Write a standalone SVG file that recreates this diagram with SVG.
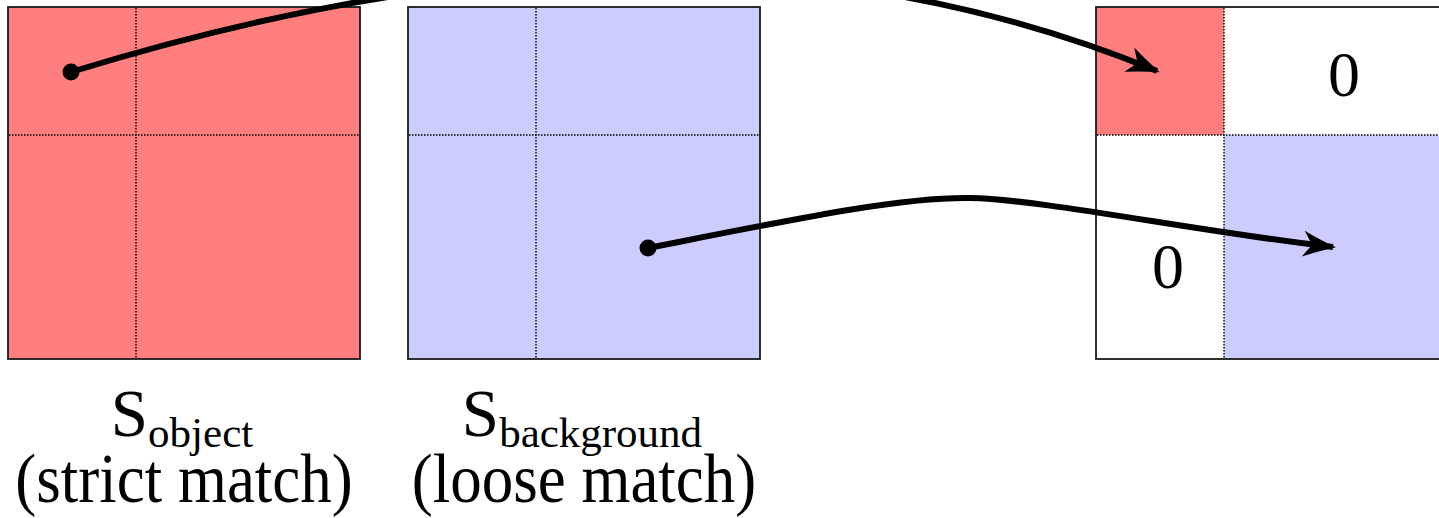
<svg xmlns="http://www.w3.org/2000/svg" width="1439" height="518" viewBox="0 0 1439 518">
<style>
.frame{stroke:#1a1a1a;stroke-width:1.8;}
.red{fill:#FF7F7F;}
.blue{fill:#CCCCFF;}
.grid{stroke:#000;stroke-width:1.4;stroke-dasharray:1.5 1.5;fill:none;}
.conn{fill:none;stroke:#000;stroke-width:6;}
.t{font-family:"Liberation Serif","Times New Roman",serif;fill:#000;}
</style>
<defs>
<marker id="arr" markerUnits="userSpaceOnUse" markerWidth="48" markerHeight="40" viewBox="-40 -20 48 40" refX="0" refY="0" orient="auto" overflow="visible">
<path d="M3,0 Q-12,-5 -30,-13 L-21,0 L-30,13 Q-12,5 3,0 Z" fill="#000"/>
</marker>
</defs>
<g id="s-object">
<rect class="red frame" x="8" y="7" width="352" height="352"/>
<line class="grid" x1="136" y1="8" x2="136" y2="358"/>
<line class="grid" x1="9" y1="135" x2="359" y2="135"/>
<text class="t" x="182" y="436" font-size="67" text-anchor="middle">S<tspan font-size="43" dy="11">object</tspan></text>
<text class="t" transform="translate(184,502) scale(1,1.12)" x="0" y="0" font-size="63" text-anchor="middle">(strict match)</text>
</g>
<g id="s-background">
<rect class="blue frame" x="408" y="7" width="352" height="352"/>
<line class="grid" x1="536" y1="8" x2="536" y2="358"/>
<line class="grid" x1="409" y1="135" x2="759" y2="135"/>
<text class="t" x="582" y="436" font-size="67" text-anchor="middle">S<tspan font-size="43" dy="11">background</tspan></text>
<text class="t" transform="translate(584,502) scale(1,1.12)" x="0" y="0" font-size="63" text-anchor="middle">(loose match)</text>
</g>
<g id="matrix">
<rect x="1096" y="7" width="352" height="352" fill="#fff"/>
<rect class="red" x="1096" y="7" width="128" height="128"/>
<rect class="blue" x="1224" y="135" width="224" height="224"/>
<rect class="frame" x="1096" y="7" width="352" height="352" fill="none"/>
<line class="grid" x1="1224" y1="8" x2="1224" y2="358"/>
<line class="grid" x1="1097" y1="135" x2="1447" y2="135"/>
<text class="t" x="1344" y="96" font-size="64" text-anchor="middle">0</text>
<text class="t" x="1168" y="288" font-size="64" text-anchor="middle">0</text>
</g>
<g id="connectors">
<path class="conn" d="M71,72 C500,-60 850,-55 1157,71" marker-end="url(#arr)"/>
<circle cx="71" cy="72" r="8.5"/>
<path class="conn" d="M648,248 C800,218 900,197 970,198 S1200,232 1333,247" marker-end="url(#arr)"/>
<circle cx="648" cy="248" r="8.5"/>
</g>
</svg>
